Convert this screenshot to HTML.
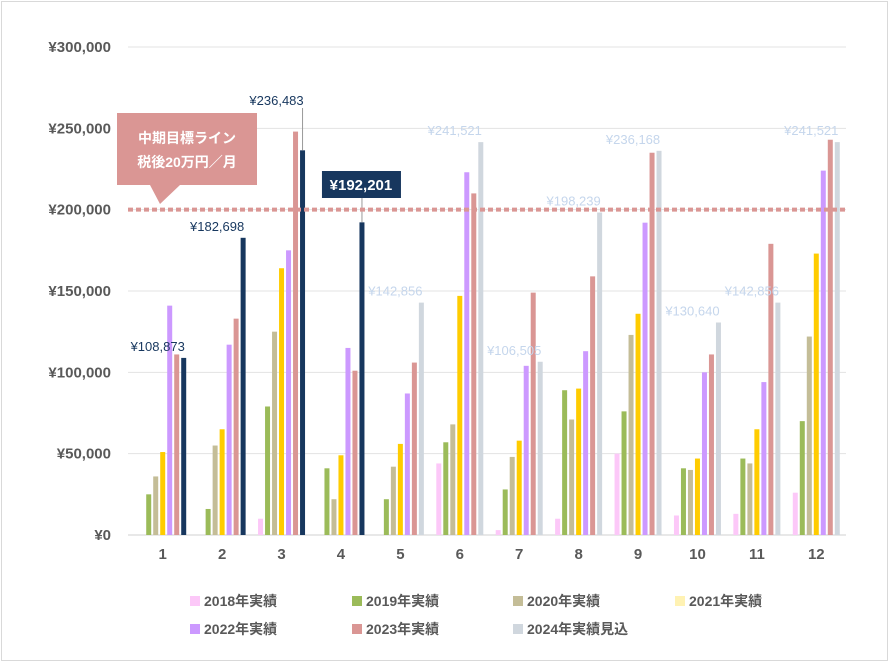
<!DOCTYPE html>
<html><head><meta charset="utf-8"><style>
body{margin:0;background:#fff;font-family:"Liberation Sans","Noto Sans CJK JP",sans-serif}
svg text{font-family:"Liberation Sans","Noto Sans CJK JP",sans-serif}
</style></head><body>
<svg id="chart" width="890" height="663" xmlns="http://www.w3.org/2000/svg">
<rect x="1.5" y="1.5" width="886" height="659" fill="#fff" stroke="#d9d9d9"/>
<g id="grid"></g><g id="bars"></g><g id="labels"></g><g id="legend"></g>
</svg>
<script>
const months=["1","2","3","4","5","6","7","8","9","10","11","12"];
const s2018=[0,0,10000,0,0,44000,3000,10000,50000,12000,13000,26000];
const s2019=[25000,16000,79000,41000,22000,57000,28000,89000,76000,41000,47000,70000];
const s2020=[36000,55000,125000,22000,42000,68000,48000,71000,123000,40000,44000,122000];
const s2021=[51000,65000,164000,49000,56000,147000,58000,90000,136000,47000,65000,173000];
const s2022=[141000,117000,175000,115000,87000,223000,104000,113000,192000,100000,94000,224000];
const s2023=[111000,133000,248000,101000,106000,210000,149000,159000,235000,111000,179000,243000];
const s2024=[108873,182698,236483,192201,142856,241521,106505,198239,236168,130640,142856,241521];
const yTicks=[0,50000,100000,150000,200000,250000,300000];
const seriesNames=["2018年実績","2019年実績","2020年実績","2021年実績","2022年実績","2023年実績","2024年実績見込"];
const target=200000;
const colors=["#fcc8f8","#9bbb59","#c4bd97","#ffcc00","#cc99ff","#da9694","#d0d7de"];
const legendColors=["#fcc8f8","#9bbb59","#c4bd97","#fff2b3","#cc99ff","#da9694","#d0d7de"];
const NS="http://www.w3.org/2000/svg";
const x0=133,x1=846,y0=535,yTop=47,yMax=300000;
const y=v=>y0-(v/yMax)*(y0-yTop);
const band=(x1-x0)/months.length;
const cx=i=>x0+band*(i+0.5);
function mk(tag,attrs,parent,text){const e=document.createElementNS(NS,tag);for(const k in attrs)e.setAttribute(k,attrs[k]);if(text!==undefined)e.textContent=text;parent.appendChild(e);return e;}
const fmt=v=>"¥"+v.toLocaleString("en-US");
const grid=document.getElementById("grid");
yTicks.forEach(t=>{
 const l=mk("line",{x1:x0-5,x2:x1,y1:y(t),y2:y(t),stroke:t===0?"#d0d0d0":"#e3e3e3","stroke-width":1},grid);
 
 
 const tx=mk("text",{x:111,y:y(t)+5,"text-anchor":"end","font-size":15,"font-weight":"bold",fill:"#595959"},grid,fmt(t));
 
 
});
months.forEach((m,i)=>{
 const tx=mk("text",{x:cx(i),y:559,"text-anchor":"middle","font-size":15,"font-weight":"bold",fill:"#595959"},grid,m);
 
 
});
const bars=document.getElementById("bars"),labels=document.getElementById("labels");
const all=[s2018,s2019,s2020,s2021,s2022,s2023,s2024];
const step=7,bw=5;
months.forEach((m,i)=>{
 const start=cx(i)-(6*step+bw)/2;
 all.forEach((s,k)=>{
  const v=s[i]; if(!v) return;
  let c=colors[k]; if(k===6&&i<4) c="#17375e";
  const r=mk("rect",{x:start+k*step,y:y(v),width:bw,height:y0-y(v),fill:c},bars);
  
  
 });
 const v=s2024[i],bx=start+6*step+bw/2;
 let t;
 if(i===3){
  mk("line",{x1:bx,x2:bx,y1:y(v),y2:196,stroke:"#999"},labels);
  const bg=mk("rect",{x:bx-40,y:171,width:79,height:27,fill:"#17375e"},labels);
  
  
  t=mk("text",{x:bx-1,y:190,"text-anchor":"middle","font-size":15,"font-weight":"bold",fill:"#fff"},labels,fmt(v));
 } else if(i===2){
  mk("line",{x1:bx,x2:bx,y1:y(v),y2:108,stroke:"#999"},labels);
  t=mk("text",{x:bx-26,y:105,"text-anchor":"middle","font-size":13,fill:"#17375e"},labels,fmt(v));
 } else {
  t=mk("text",{x:bx-26,y:y(v)-7,"text-anchor":"middle","font-size":13,fill:i<4?"#17375e":"#c5d6ec"},labels,fmt(v));
 }
 
 
});
const tl=mk("line",{x1:128,x2:848,y1:y(target),y2:y(target),stroke:"#da9694","stroke-width":4,"stroke-dasharray":"5,3"},labels);


const co=mk("path",{d:"M117,113 H257 V185 H180 L160,204 L150,185 H117 Z",fill:"#da9694"},labels);


const c1=mk("text",{x:187,y:143,"text-anchor":"middle","font-size":14,"font-weight":"bold",fill:"#fff"},labels,"中期目標ライン");


const c2=mk("text",{x:187,y:167,"text-anchor":"middle","font-size":14,"font-weight":"bold",fill:"#fff"},labels,"税後20万円／月");


const lg=document.getElementById("legend");
const lx=[190,352,513,675];
seriesNames.forEach((n,k)=>{
 const row=Math.floor(k/4),col=k%4,yy=row?630:602;
 const g=mk("g",{},lg);
 
 
 mk("rect",{x:lx[col],y:yy-6,width:10,height:10,fill:legendColors[k]},g);
 mk("text",{x:lx[col]+14,y:yy+4,"font-size":14,"font-weight":"bold",fill:"#595959"},g,n);
});
</script>
</body></html>
